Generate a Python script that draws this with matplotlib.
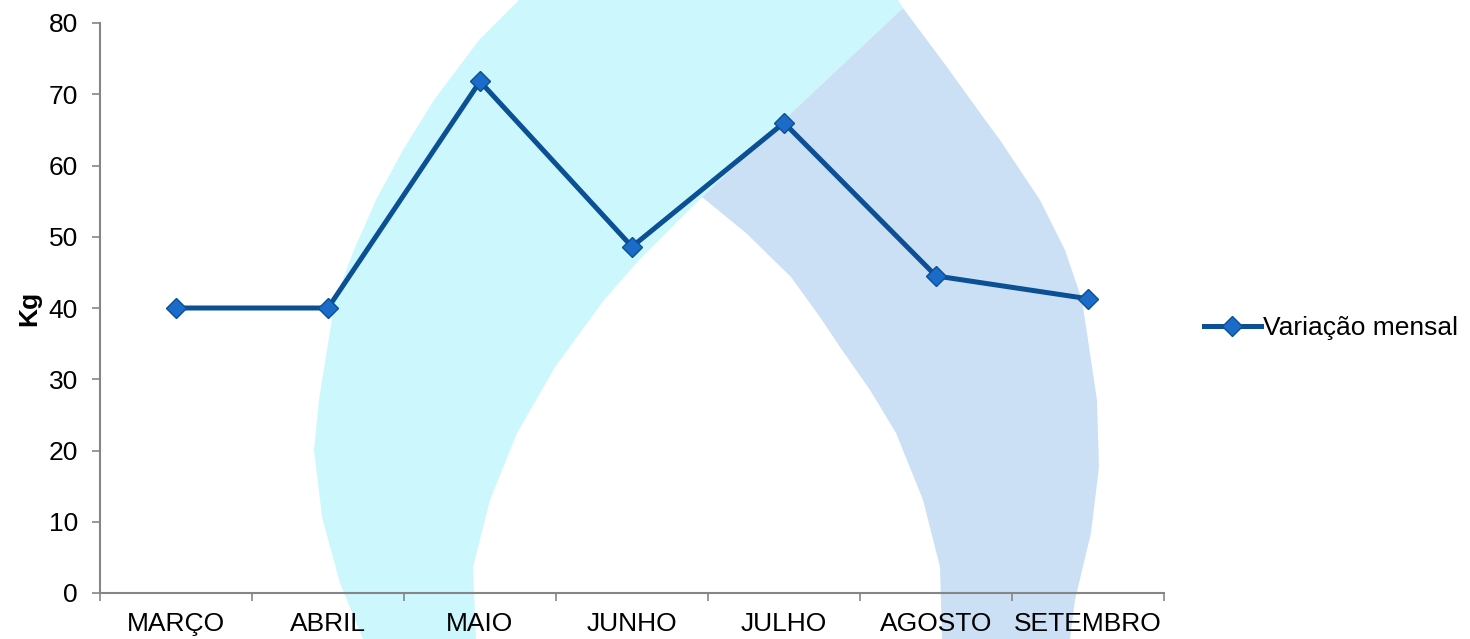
import matplotlib
matplotlib.use("Agg")
import matplotlib.pyplot as plt
from matplotlib.patches import Polygon

# ---- data ----
categories = ["MARÇO", "ABRIL", "MAIO", "JUNHO", "JULHO", "AGOSTO", "SETEMBRO"]
values = [40.0, 40.0, 71.8, 48.6, 66.0, 44.5, 41.3]
series_name = "Variação mensal"
y_label = "Kg"
y_ticks = [0, 10, 20, 30, 40, 50, 60, 70, 80]

W, H = 1470, 639
FS = 19
plt.rcParams['font.family'] = ['Liberation Sans', 'DejaVu Sans']
fig = plt.figure(figsize=(W / 100, H / 100), dpi=100)

# ---- background watermark shapes (pixel outline, decorative) ----
cyan_px = [(363, 639), (340, 583), (322, 517), (314, 450), (319, 400), (335, 300),
           (354, 250), (376, 200), (403, 150), (434, 100), (479, 40), (519, 0),
           (898, 0), (903, 8), (702, 197), (639, 260), (604, 300), (555, 367),
           (517, 433), (490, 500), (473, 567), (476, 639)]
blue_px = [(903, 8), (702, 197), (746, 233), (791, 277), (822, 320), (842, 350),
           (870, 390), (896, 433), (923, 500), (940, 567), (942, 639), (1070, 639),
           (1075, 600), (1091, 533), (1099, 467), (1097, 400), (1082, 300),
           (1065, 250), (1040, 200), (1000, 140), (983, 117), (947, 67)]


def to_fig(pts):
    return [(x / W, 1 - y / H) for x, y in pts]


bg = fig.add_axes([0, 0, 1, 1], zorder=-5)
bg.set_axis_off()
bg.set_xlim(0, 1)
bg.set_ylim(0, 1)
for pts, col in ((cyan_px, '#CCF7FD'), (blue_px, '#CCE0F5')):
    bg.add_patch(Polygon(to_fig(pts), closed=True, facecolor=col,
                         edgecolor='none'))

# ---- axes ----
ax = fig.add_axes([100 / W, (H - 593) / H, 1064 / W, 570 / H], zorder=1)
ax.set_facecolor('none')

x = [i + 0.5 for i in range(len(categories))]
ax.plot(x, values, color='#0B4F94', linewidth=3.6, marker='D', markersize=10,
        markerfacecolor='#1A6CC8', markeredgecolor='#0B4F94', markeredgewidth=1,
        label=series_name, zorder=3, solid_joinstyle='miter')

ax.set_xlim(0, len(categories))
ax.set_ylim(0, 80)
ax.set_yticks(y_ticks)
ax.set_xticks(range(len(categories) + 1))
ax.set_xticklabels([])
ax.set_xticks(x, minor=True)
ax.set_xticklabels(categories, minor=True)

for s in ('top', 'right'):
    ax.spines[s].set_visible(False)
for s in ('left', 'bottom'):
    ax.spines[s].set_color('#868686')
    ax.spines[s].set_linewidth(1.5)

ax.tick_params(axis='y', which='major', direction='out', length=6, width=1.2,
               color='#868686', labelsize=FS, pad=10)
ax.tick_params(axis='x', which='major', direction='out', length=6, width=1.2,
               color='#868686')
ax.tick_params(axis='x', which='minor', length=0, labelsize=FS, pad=14)

ax.set_ylabel(y_label, fontsize=FS, fontweight='bold', labelpad=5)

ax.legend(loc='center left', bbox_to_anchor=(1204 / W, 1 - 328 / H),
          bbox_transform=fig.transFigure, frameon=False, fontsize=FS,
          handlelength=2.15, handletextpad=0.1, borderaxespad=0, borderpad=0)

fig.savefig('out.png', dpi=100)
